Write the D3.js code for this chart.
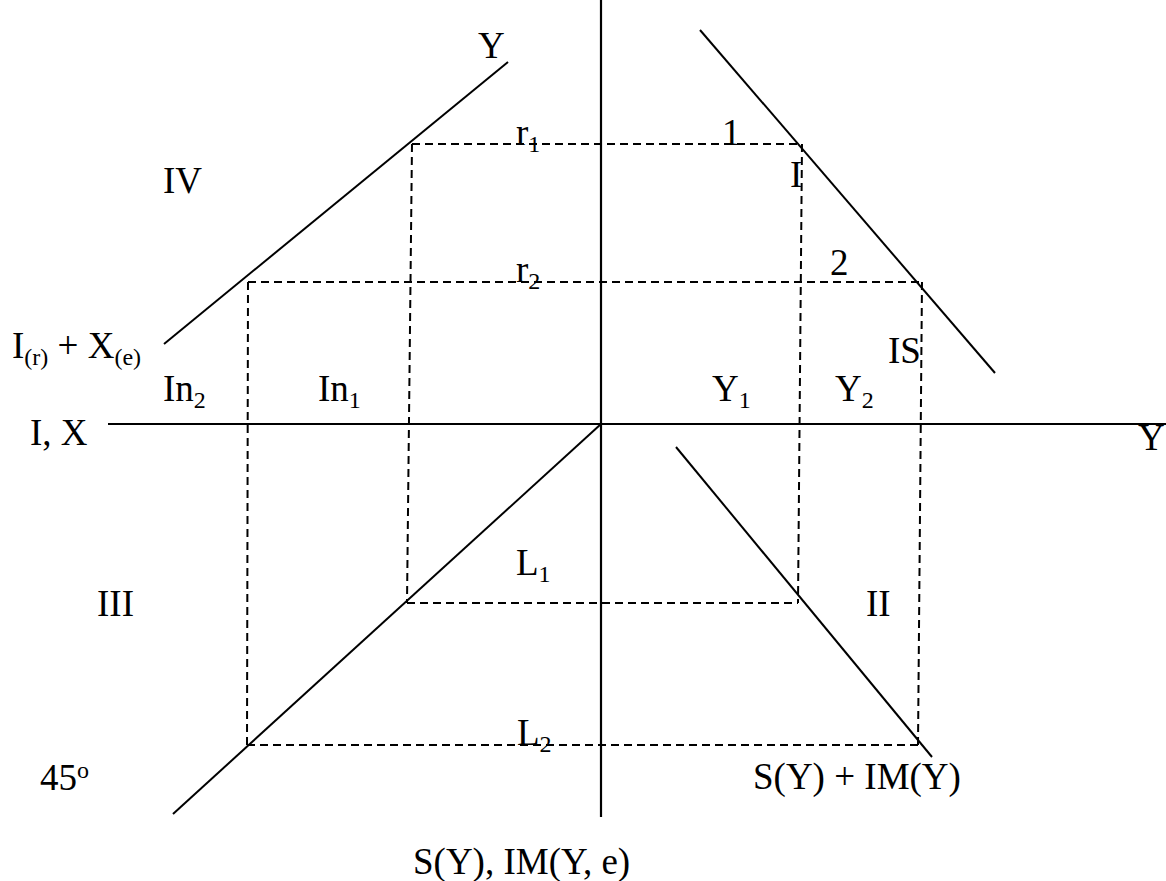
<!DOCTYPE html>
<html>
<head>
<meta charset="utf-8">
<script src="https://cdn.jsdelivr.net/npm/d3@7"></script>
<style>
  body { margin: 0; background: #fff; }
  text { font-family: "Liberation Serif", "Times New Roman", serif; fill: #000; }
</style>
</head>
<body>
<div id="chart"></div>
<script>
// coordinates are in diagram units, origin at the crossing of the two axes
var axes = [
    [[-493, 0], [565, 0]],
    [[0, 424], [0, -393]]
];

// solid schedules: IV (I + X), I (IS), II (S + IM), III (45 degree)
var curves = [
    [[-437, 80], [-93, 362]],
    [[99, 394], [394, 51]],
    [[75, -23], [331, -333]],
    [[-428, -390], [0, 0]]
];

// dashed projection lines
var guides = [
    [[-189, 280], [201, 280]],
    [[-353, 142], [321, 142]],
    [[-194, -179], [197, -179]],
    [[-354, -321], [317, -321]],
    [[-189, 280], [-194, -179]],
    [[-353, 142], [-354, -321]],
    [[201, 280], [197, -179]],
    [[321, 142], [317, -321]]
];

// labels: position of the baseline start, then text pieces (plain / sub / sup)
var labels = [
    { x: -123, y: 366, parts: [["Y"]] },
    { x: -438, y: 231, parts: [["IV"]] },
    { x: -85, y: 279, parts: [["r"], ["1", "sub"]] },
    { x: 121, y: 279, parts: [["1"]] },
    { x: 189, y: 237, parts: [["I"]] },
    { x: -85, y: 142, parts: [["r"], ["2", "sub"]] },
    { x: 229, y: 149, parts: [["2"]] },
    { x: -589, y: 66, parts: [["I"], ["(r)", "sub"], [" + X"], ["(e)", "sub"]] },
    { x: 287, y: 61, parts: [["IS"]] },
    { x: -438, y: 23, parts: [["In"], ["2", "sub"]] },
    { x: -283, y: 23, parts: [["In"], ["1", "sub"]] },
    { x: 111, y: 23, parts: [["Y"], ["1", "sub"]] },
    { x: 234, y: 23, parts: [["Y"], ["2", "sub"]] },
    { x: -571, y: -21, parts: [["I, X"]] },
    { x: 537, y: -26, parts: [["Y"]] },
    { x: -85, y: -151, parts: [["L"], ["1", "sub"]] },
    { x: -504, y: -192, parts: [["III"]] },
    { x: 265, y: -192, parts: [["II"]] },
    { x: -84, y: -321, parts: [["L"], ["2", "sub"]] },
    { x: -561, y: -366, parts: [["45"], ["o", "sup"]] },
    { x: 152, y: -365, parts: [["S(Y) + IM(Y)"]] },
    { x: -188, y: -450, parts: [["S(Y), IM(Y, e)"]] }
];

var width = 1166, height = 881;

var svg = d3.select("#chart")
    .append("svg")
        .attr("width", width)
        .attr("height", height);

var x = d3.scaleLinear()
    .domain([-601, 565])
    .range([0, width]);

var y = d3.scaleLinear()
    .domain([424, -457])
    .range([0, height]);

var line = d3.line()
    .x(function(d) { return x(d[0]); })
    .y(function(d) { return y(d[1]); });

svg.selectAll(".guide")
    .data(guides)
    .enter().append("path")
    .attr("class", "guide")
    .attr("d", line)
    .attr("fill", "none")
    .attr("stroke", "#000")
    .attr("stroke-width", 2)
    .attr("stroke-dasharray", "8,5");

svg.selectAll(".axis")
    .data(axes)
    .enter().append("path")
    .attr("class", "axis")
    .attr("d", line)
    .attr("fill", "none")
    .attr("stroke", "#000")
    .attr("stroke-width", 2.2);

svg.selectAll(".curve")
    .data(curves)
    .enter().append("path")
    .attr("class", "curve")
    .attr("d", line)
    .attr("fill", "none")
    .attr("stroke", "#000")
    .attr("stroke-width", 2);

var texts = svg.selectAll(".label")
    .data(labels)
    .enter().append("text")
    .attr("class", "label")
    .attr("x", function(d) { return x(d.x); })
    .attr("y", function(d) { return y(d.y); })
    .style("font-size", "37px");

texts.each(function(d) {
    var t = d3.select(this);
    var shift = 0;
    d.parts.forEach(function(p) {
        var span = t.append("tspan").text(p[0]);
        var want = 0;
        if (p[1] === "sub") {
            span.style("font-size", "24px");
            want = 7;
        } else if (p[1] === "sup") {
            span.style("font-size", "24px");
            want = -12;
        }
        span.attr("dy", want - shift);
        shift = want;
    });
});
</script>
</body>
</html>
